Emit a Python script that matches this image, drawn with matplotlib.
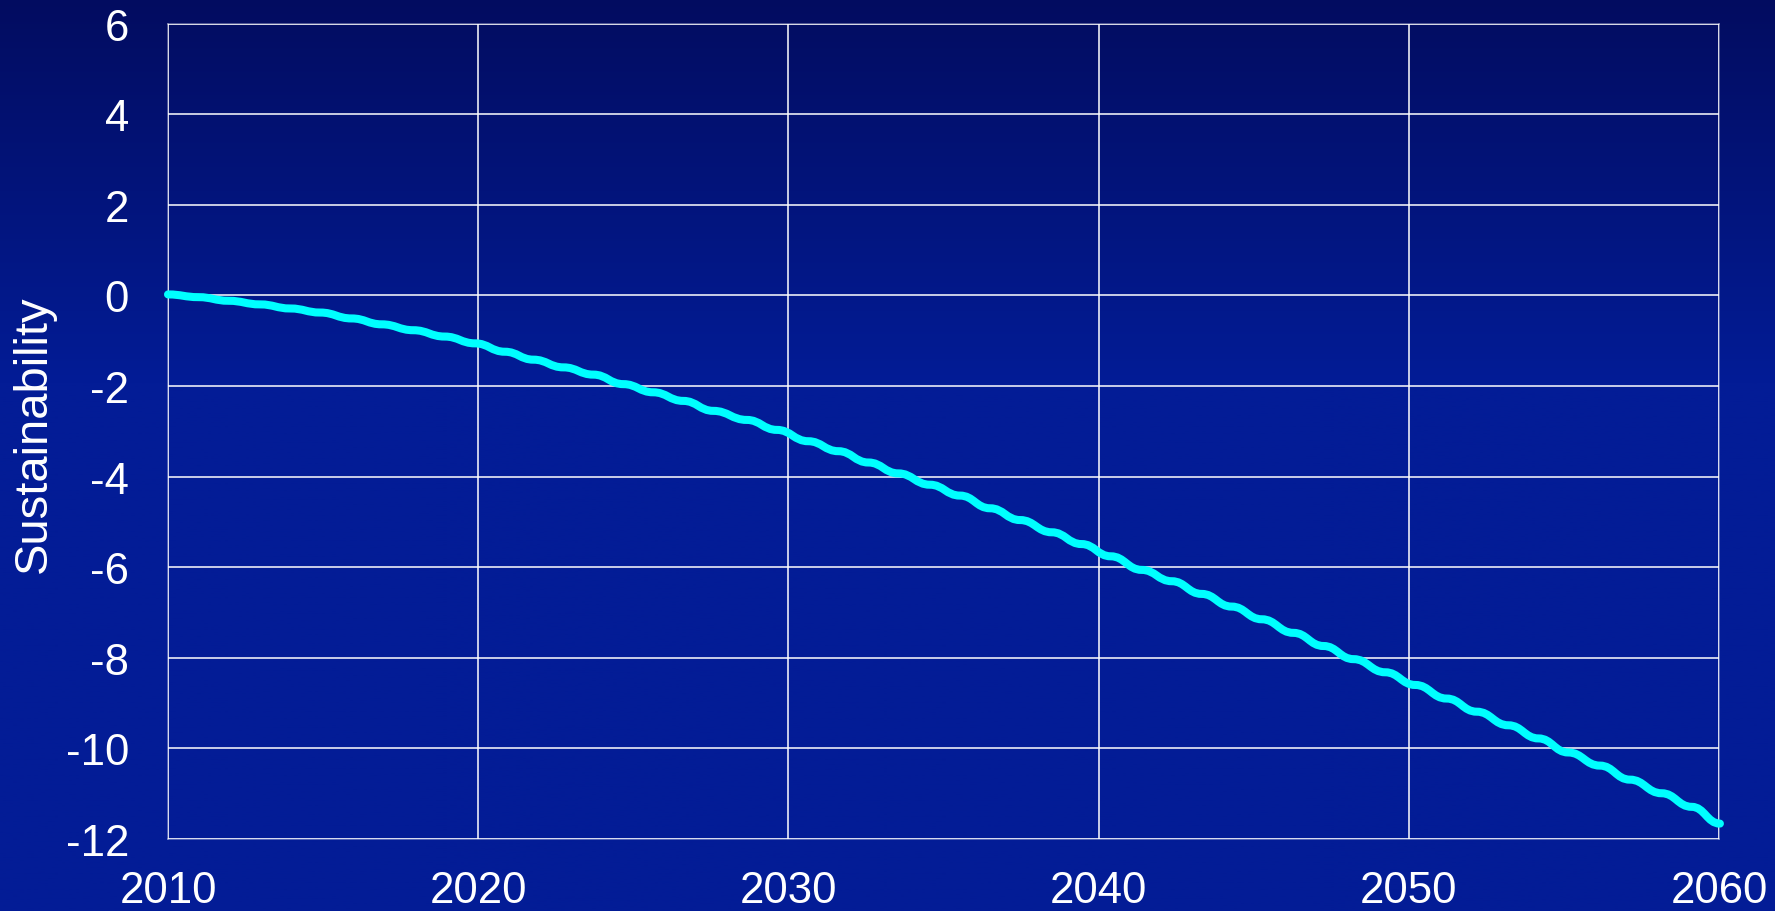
import numpy as np
import matplotlib
matplotlib.use("Agg")
import matplotlib.pyplot as plt
from matplotlib.path import Path
from matplotlib.patches import PathPatch

# sustainability index, sampled at the flat part of each yearly cycle
years = [2010.00, 2010.98, 2011.95, 2012.97, 2013.94, 2014.91, 2015.92, 2016.89,
         2017.91, 2018.92, 2019.90, 2020.86, 2021.78, 2022.75, 2023.71, 2024.68,
         2025.64, 2026.61, 2027.58, 2028.66, 2029.63, 2030.64, 2031.61, 2032.58,
         2033.54, 2034.56, 2035.53, 2036.50, 2037.47, 2038.49, 2039.45, 2040.39,
         2041.39, 2042.36, 2043.32, 2044.29, 2045.26, 2046.28, 2047.25, 2048.22,
         2049.24, 2050.21, 2051.22, 2052.19, 2053.21, 2054.18, 2055.14, 2056.16,
         2057.13, 2058.15, 2059.12, 2060.03]
sustainability = [0.02, -0.04, -0.12, -0.20, -0.29, -0.38, -0.51, -0.64,
                  -0.77, -0.91, -1.06, -1.245, -1.42, -1.59, -1.75, -1.96,
                  -2.14, -2.33, -2.55, -2.75, -2.97, -3.22, -3.44, -3.69,
                  -3.93, -4.18, -4.42, -4.70, -4.96, -5.23, -5.49, -5.76,
                  -6.06, -6.31, -6.59, -6.87, -7.15, -7.45, -7.74, -8.03,
                  -8.32, -8.60, -8.90, -9.19, -9.49, -9.78, -10.09, -10.38,
                  -10.69, -10.99, -11.29, -11.66]

x_ticks = [2010, 2020, 2030, 2040, 2050, 2060]
y_ticks = [-12, -10, -8, -6, -4, -2, 0, 2, 4, 6]

plt.rcParams["axes.unicode_minus"] = False

W, H, DPI = 1775, 912, 100
fig = plt.figure(figsize=(W / DPI, H / DPI), dpi=DPI)

# dark-to-bright blue backdrop
bg = fig.add_axes([0, 0, 1, 1], zorder=-10)
rows = np.linspace(0, 1, 400)
k = np.clip(rows / 0.42, 0, 1)[:, None]
top = np.array([2, 12, 96]) / 255
mid = np.array([3, 28, 150]) / 255
grad = (top * (1 - k) + mid * k)[:, None, :] * np.ones((1, 2, 1))
bg.imshow(grad, aspect="auto", extent=[0, 1, 0, 1], origin="upper")
bg.set_axis_off()

ax = fig.add_axes([168 / W, (H - 840) / H, (1719 - 168) / W, (840 - 24.5) / H])
ax.set_facecolor("none")

# smooth staircase: horizontal tangents at each sample
verts = [(years[0], sustainability[0])]
codes = [Path.MOVETO]
for i in range(1, len(years)):
    t0, v0 = years[i - 1], sustainability[i - 1]
    t1, v1 = years[i], sustainability[i]
    dt = t1 - t0
    verts += [(t0 + 0.45 * dt, v0), (t1 - 0.45 * dt, v1), (t1, v1)]
    codes += [Path.CURVE4] * 3
patch = PathPatch(Path(verts, codes), fill=False, edgecolor="#00ffff", lw=5.8,
                  capstyle="round", joinstyle="round", zorder=3, clip_on=False)
ax.add_patch(patch)

ax.set_xlim(2010, 2060)
ax.set_ylim(-12, 6)
ax.set_xticks(x_ticks)
ax.set_yticks(y_ticks)

gc = (1, 1, 1, 0.42)
ax.grid(True, color=gc, lw=1.1)
for s in ax.spines.values():
    s.set_color(gc)
    s.set_linewidth(1.1)

font = "Liberation Sans"
ax.tick_params(length=0, colors="white", labelsize=31.5)
ax.tick_params(axis="y", pad=28)
ax.tick_params(axis="x", pad=22)
for lab in ax.get_xticklabels() + ax.get_yticklabels():
    lab.set_fontfamily(font)

fig.text(34 / W, 1 - 434 / H, "Sustainability", rotation=90, ha="center", va="center",
         color="white", fontsize=34, fontfamily=font)

fig.savefig("out.png", dpi=DPI)
